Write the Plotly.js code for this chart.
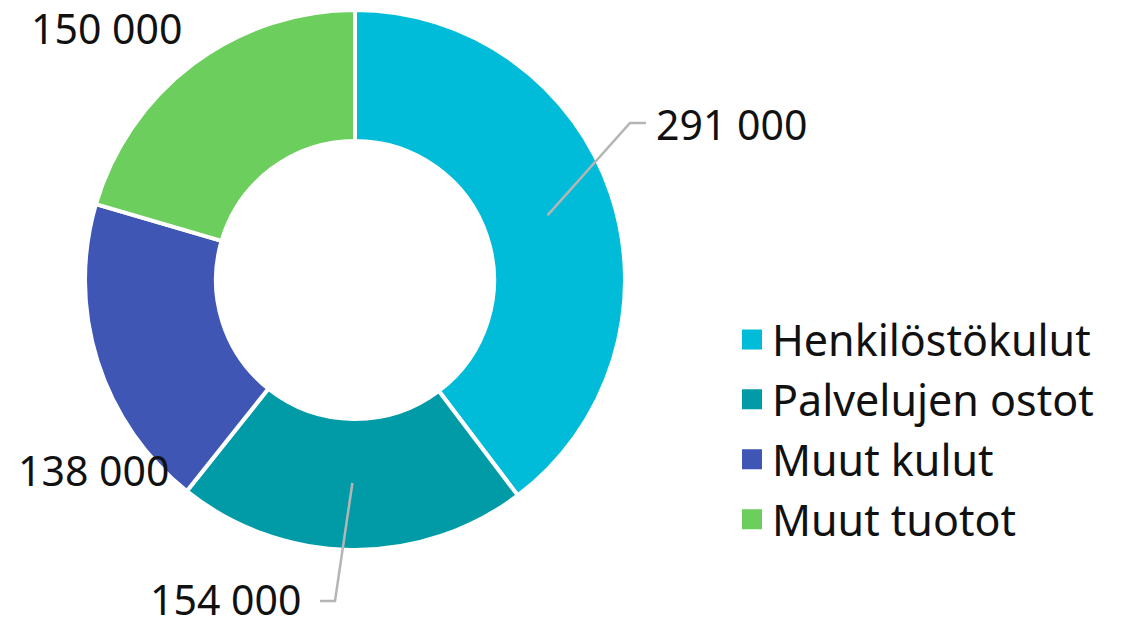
<!DOCTYPE html>
<html>
<head>
<meta charset="utf-8">
<script src="https://cdn.plot.ly/plotly-3.0.1.min.js"></script>
<style>
  html, body { margin: 0; padding: 0; background: #fff; }
  #chart { width: 1122px; height: 626px; }
</style>
</head>
<body>
<div id="chart"></div>
<script>
// Data
var categories = ["Henkilöstökulut", "Palvelujen ostot", "Muut kulut", "Muut tuotot"];
var amounts = [291000, 154000, 138000, 150000];
var colors = ["#00BCD9", "#009BA6", "#3F56B5", "#6CCE5C"];

// label placement (px), leader line only where the reference has one
var labelSpots = [
  {x: 655, y: 124, anchor: "left", elbow: [630, 123], end: [646, 123]},
  {x: 302, y: 599, anchor: "right", elbow: [335, 601], end: [320, 601]},
  {x: 170, y: 470, anchor: "right"},
  {x: 183, y: 28, anchor: "right"}
];

var W = 1122, H = 626;
var cx = 355, cy = 280, R = 270, hole = 0.515;

// format like "291 000"
function fmt(v) {
  return v.toString().replace(/\B(?=(\d{3})+(?!\d))/g, " ");
}

var pie = {
  type: "pie",
  labels: categories,
  values: amounts,
  sort: false,
  direction: "clockwise",
  rotation: 0,
  hole: hole,
  textinfo: "none",
  marker: {colors: colors, line: {color: "#ffffff", width: 4}},
  showlegend: false,
  domain: {x: [(cx - R) / W, (cx + R) / W], y: [1 - (cy + R) / H, 1 - (cy - R) / H]}
};

// dummy traces just for the square legend
var legendTraces = categories.map(function (c, i) {
  return {
    type: "scatter", mode: "markers", x: [null], y: [null],
    name: c, legendgroup: c,
    marker: {symbol: "square", size: 16, color: colors[i], line: {color: colors[i], width: 4}}
  };
});

var total = amounts.reduce(function (a, b) { return a + b; }, 0);
var annotations = [];
var shapes = [];
var cum = 0;
amounts.forEach(function (v, i) {
  var mid = (cum + v / 2) / total * 2 * Math.PI;
  cum += v;
  var rMid = (R - 2 + (R - 2) * hole) / 2;
  var px = cx + rMid * Math.sin(mid);
  var py = cy - rMid * Math.cos(mid);
  var s = labelSpots[i];
  annotations.push({
    xref: "paper", yref: "paper", x: s.x / W, y: 1 - s.y / H,
    xanchor: s.anchor, yanchor: "middle", showarrow: false, borderpad: 0,
    text: fmt(v), font: {size: 41, color: "#111111"}
  });
  if (s.elbow) {
    shapes.push({
      type: "path", xref: "paper", yref: "paper",
      path: "M" + px / W + "," + (1 - py / H) +
            " L" + s.elbow[0] / W + "," + (1 - s.elbow[1] / H) +
            " L" + s.end[0] / W + "," + (1 - s.end[1] / H),
      line: {color: "#B5B5B5", width: 2.5}
    });
  }
});

var layout = {
  width: W, height: H,
  margin: {l: 0, r: 0, t: 0, b: 0},
  paper_bgcolor: "#ffffff",
  plot_bgcolor: "#ffffff",
  font: {family: "Noto Sans, Open Sans, sans-serif", color: "#111111"},
  xaxis: {visible: false},
  yaxis: {visible: false},
  showlegend: true,
  legend: {
    x: 732 / W, xanchor: "left", y: 1 - 305 / H, yanchor: "top",
    font: {size: 43, color: "#111111"},
    traceorder: "grouped", tracegroupgap: 1,
    bgcolor: "rgba(0,0,0,0)"
  },
  annotations: annotations,
  shapes: shapes
};

Plotly.newPlot("chart", [pie].concat(legendTraces), layout, {staticPlot: true});
</script>
</body>
</html>
